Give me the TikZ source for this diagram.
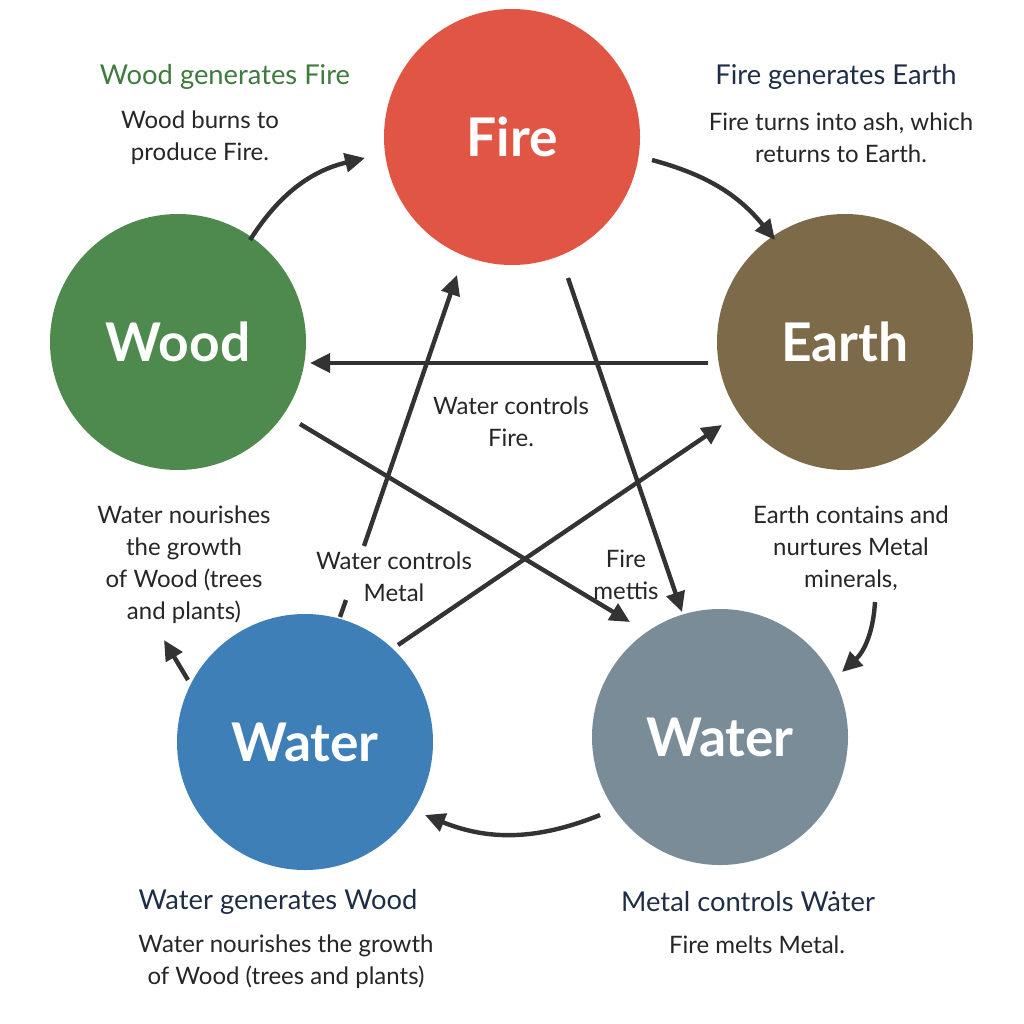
\documentclass[tikz,border=0pt]{standalone}
\usepackage{fontspec}
\setmainfont{Lato}
\usetikzlibrary{arrows.meta}
\definecolor{firec}{HTML}{E05543}
\definecolor{woodc}{HTML}{4E8A4E}
\definecolor{earthc}{HTML}{7D6A48}
\definecolor{waterc}{HTML}{3D7FB6}
\definecolor{metalc}{HTML}{7B8C99}
\definecolor{ink}{HTML}{333333}
\definecolor{navy}{HTML}{1F2E45}
\definecolor{greent}{HTML}{3F7A3F}
\tikzset{
  elem/.style={circle,fill=#1,minimum size=256*0.75pt,inner sep=0pt,text=white,font=\fontsize{40}{42}\selectfont\bfseries},
  arr/.style={draw=ink,line width=3.3pt,-{Triangle[length=15pt,width=14pt]}},
  seg/.style={draw=ink,line width=3.3pt},
  ttl/.style={font=\fontsize{20.5}{24}\selectfont,text=navy},
  body/.style={font=\fontsize{18}{24}\selectfont,text=black!85,align=center},
}
\begin{document}
\begin{tikzpicture}[x=0.75pt,y=-0.75pt]
\useasboundingbox[fill=white] (0,0) rectangle (1024,1024);
\node[elem=firec] (fire) at (512,137) {Fire};
\node[elem=woodc] (wood) at (178,342) {Wood};
\node[elem=earthc] (earth) at (845,342) {Earth};
\node[elem=waterc] (water) at (305,742) {Water};
\node[elem=metalc] (metal) at (720,737) {Water};

\node[ttl,text=greent] (t1) at (225,77) {Wood generates Fire};
\node[body] (b1) at (200,138) {Wood burns to\\produce Fire.};
\node[ttl] (t2) at (836,77) {Fire generates Earth};
\node[body] (b2) at (841,138) {Fire turns into ash, which\\returns to Earth.};
\node[body] (b3) at (851,548) {Earth contains and\\nurtures Metal\\minerals,};
\node[body] (b4) at (184,565) {Water nourishes\\the growth\\of Wood (trees\\and plants)};
\node[ttl] (t5) at (278,902) {Water generates Wood};
\node[body] (b5) at (286,962) {Water nourishes the growth\\of Wood (trees and plants)};
\node[ttl] (t6) at (748,902) {Metal controls Wȧter};
\node[body] (b6) at (757,945) {Fire melts Metal.};
\node[body] (c1) at (511,422) {Water controls\\Fire.};
\node[body] (c2) at (626,575) {Fire\\mettis};
\node[body] (c3) at (394,577) {Water controls\\Metal};

\coordinate (a1s) at (250,240); \coordinate (a1e) at (365,158);
\draw[arr] (a1s) to[bend left=22] (a1e);
\coordinate (a2s) at (652,160); \coordinate (a2e) at (775,240);
\draw[arr] (a2s) to[bend left=18] (a2e);
\coordinate (a3s) at (875,602); \coordinate (a3e) at (842,672);
\draw[arr] (a3s) to[bend left=22] (a3e);
\coordinate (a4s) at (600,815); \coordinate (a4e) at (425,815);
\draw[arr] (a4s) to[bend left=22] (a4e);
\coordinate (a5s) at (188,680); \coordinate (a5e) at (164,640);
\draw[arr] (a5s) -- (a5e);
\coordinate (a6s) at (708,363); \coordinate (a6e) at (310,363);
\draw[arr] (a6s) -- (a6e);
\coordinate (a7s) at (300,424); \coordinate (a7e) at (630,622);
\draw[arr] (a7s) -- (a7e);
\coordinate (a8s) at (568,278); \coordinate (a8e) at (682,612);
\draw[arr] (a8s) -- (a8e);
\coordinate (a9s) at (398,645); \coordinate (a9e) at (722,425);
\draw[arr] (a9s) -- (a9e);
\coordinate (a10s) at (340,617); \coordinate (a10m) at (346,600);
\coordinate (a10n) at (364,546); \coordinate (a10e) at (457,275);
\draw[seg] (a10s) -- (a10m);
\draw[arr] (a10n) -- (a10e);
\end{tikzpicture}
\end{document}
